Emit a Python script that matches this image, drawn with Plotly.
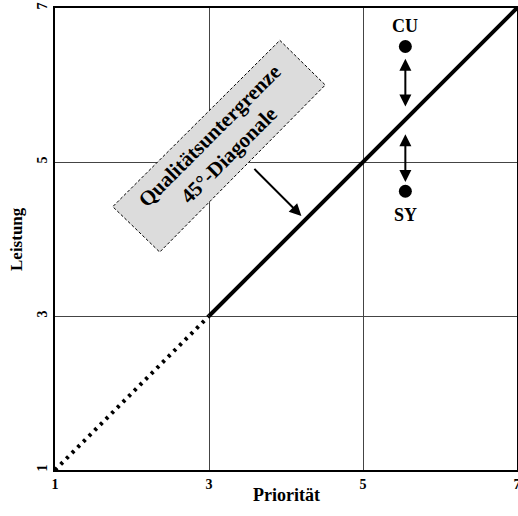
import plotly.graph_objects as go

# Data
diag_dotted_x = [1, 3]
diag_dotted_y = [1, 3]
diag_solid_x = [3, 7]
diag_solid_y = [3, 7]
point_labels = ["CU", "SY"]
point_x = [5.55, 5.55]
point_y = [6.5, 4.62]
tick_vals = [1, 3, 5, 7]
tick_text = ["<b>1</b>", "<b>3</b>", "<b>5</b>", "<b>7</b>"]

FONT = "Liberation Serif"

fig = go.Figure()
fig.add_trace(go.Scatter(x=diag_dotted_x, y=diag_dotted_y, mode="lines",
                         line=dict(color="black", width=4, dash="3px,5px"),
                         hoverinfo="skip", showlegend=False))
fig.add_trace(go.Scatter(x=diag_solid_x, y=diag_solid_y, mode="lines",
                         line=dict(color="black", width=4),
                         hoverinfo="skip", showlegend=False))
fig.add_trace(go.Scatter(x=point_x, y=point_y, mode="markers",
                         marker=dict(color="black", size=13),
                         hoverinfo="skip", showlegend=False))

# point labels
fig.add_annotation(x=point_x[0], y=point_y[0], text="<b>" + point_labels[0] + "</b>", showarrow=False,
                   yshift=21, font=dict(family=FONT, size=18, color="black"))
fig.add_annotation(x=point_x[1], y=point_y[1], text="<b>" + point_labels[1] + "</b>", showarrow=False,
                   yshift=-24, font=dict(family=FONT, size=18, color="black"))

# double arrows
def darrow(x, y0, y1):
    fig.add_annotation(x=x, y=y1, ax=x, ay=y0, xref="x", yref="y", axref="x", ayref="y",
                       showarrow=True, arrowhead=2, startarrowhead=2, arrowside="end+start",
                       arrowsize=1.2, startarrowsize=1.2, arrowwidth=2, arrowcolor="black", text="")

darrow(5.55, 6.36, 5.72)
darrow(5.55, 5.38, 4.74)

# rotated box
bx = [3.92, 4.51, 2.36, 1.75]
by = [6.58, 6.0, 3.83, 4.42]
path = "M {} {} L {} {} L {} {} L {} {} Z".format(bx[0], by[0], bx[1], by[1], bx[2], by[2], bx[3], by[3])
fig.add_shape(type="path", path=path, xref="x", yref="y",
              fillcolor="#dcdcdc", line=dict(color="black", width=1, dash="3px,2px"), layer="above")
fig.add_annotation(x=3.13, y=5.21, text="<b>Qualitätsuntergrenze<br>45°-Diagonale</b>",
                   textangle=-45, showarrow=False,
                   font=dict(family=FONT, size=21, color="black"))

# pointer arrow
fig.add_annotation(x=4.2, y=4.3, ax=3.57, ay=4.93, xref="x", yref="y", axref="x", ayref="y",
                   showarrow=True, arrowhead=2, arrowsize=1.2, arrowwidth=2, arrowcolor="black", text="")

# axis titles
fig.add_annotation(x=0.5, y=0, xref="paper", yref="paper", yshift=-13, yanchor="top",
                   text="<b>Priorität</b>", showarrow=False,
                   font=dict(family=FONT, size=18, color="black"))
fig.add_annotation(x=0, y=0.5, xref="paper", yref="paper", xshift=-39, xanchor="center",
                   text="<b>Leistung</b>", showarrow=False, textangle=-90,
                   font=dict(family=FONT, size=17, color="black"))

common = dict(range=[1, 7], tickvals=tick_vals, ticktext=tick_text,
              showgrid=True, gridcolor="#444444", gridwidth=1,
              showline=True, linecolor="black", linewidth=2, mirror=True,
              zeroline=False, ticks="", ticklen=0, automargin=False,
              ticklabeloverflow="allow",
              tickfont=dict(family=FONT, size=14, color="black"))
fig.update_xaxes(**common)
fig.update_yaxes(**common, tickangle=-90)
fig.update_layout(width=518, height=516, margin=dict(l=55, r=1, t=8, b=46),
                  plot_bgcolor="white", paper_bgcolor="white", showlegend=False)
fig.write_html("out.html", config={"displayModeBar": False},
               post_script="document.body.style.margin='0';document.body.style.overflow='hidden';")
